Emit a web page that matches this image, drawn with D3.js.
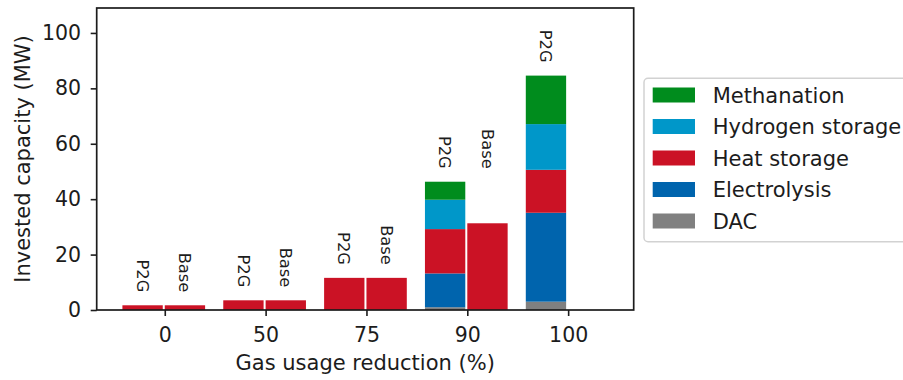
<!DOCTYPE html>
<html>
<head>
<meta charset="utf-8">
<script src="https://cdn.jsdelivr.net/npm/d3@7"></script>
<style>
  html, body { margin: 0; padding: 0; background: #fff; }
  svg { display: block; font-family: "DejaVu Sans", sans-serif; }
</style>
</head>
<body>
<svg id="chart" width="903" height="380"></svg>
<script>
// Gas usage reduction scenarios (x categories)
const categories = ["0", "50", "75", "90", "100"];

// P2G scenario, invested capacity per technology (MW)
const p2gDAC          = [0, 0, 0, 1.0, 3.0];
const p2gElectrolysis = [0, 0, 0, 12.2, 32.1];
const p2gHeatStorage  = [1.7, 3.5, 11.6, 16.0, 15.5];
const p2gHydrogen     = [0, 0, 0, 10.6, 16.5];
const p2gMethanation  = [0, 0, 0, 6.5, 17.5];

// Base scenario (heat storage only; no solution at 100 %)
const baseHeatStorage = [1.7, 3.5, 11.6, 31.3, null];

// Technologies, stacked bottom to top
const techNames  = ["DAC", "Electrolysis", "Heat storage", "Hydrogen storage", "Methanation"];
const techColors = ["#808080", "#0064ad", "#cb1225", "#0097c9", "#008c1d"];

const yTicks = [0, 20, 40, 60, 80, 100];

const svg = d3.select("#chart");
const ink = "#1c1c1c";

const plot = { left: 96.7, right: 633.7, top: 8, bottom: 310 };

const x = d3.scaleLinear().domain([-0.675, 4.65]).range([plot.left, plot.right]);
const y = d3.scaleLinear().domain([0, 109]).range([plot.bottom, plot.top]);

const p2gSeries = [p2gDAC, p2gElectrolysis, p2gHeatStorage, p2gHydrogen, p2gMethanation];

// Build stacked segments for the P2G bars
const segments = [];
categories.forEach((c, i) => {
  let acc = 0;
  p2gSeries.forEach((s, k) => {
    const v = s[i];
    if (v > 0) segments.push({ i, y0: acc, y1: acc + v, color: techColors[k] });
    acc += v;
  });
});

const bars = svg.append("g");
bars.selectAll("rect.p2g").data(segments).join("rect")
  .attr("class", "p2g")
  .attr("x", d => x(d.i - 0.42))
  .attr("width", d => x(d.i - 0.02) - x(d.i - 0.42))
  .attr("y", d => y(d.y1))
  .attr("height", d => y(d.y0) - y(d.y1))
  .attr("fill", d => d.color);

const baseData = baseHeatStorage.map((v, i) => ({ i, v })).filter(d => d.v != null);
bars.selectAll("rect.base").data(baseData).join("rect")
  .attr("class", "base")
  .attr("x", d => x(d.i))
  .attr("width", d => x(d.i + 0.4) - x(d.i))
  .attr("y", d => y(d.v))
  .attr("height", d => y(0) - y(d.v))
  .attr("fill", techColors[2]);

// Scenario labels above each group
const labelSize = 16.3;
const labels = [];
categories.forEach((c, i) => {
  const p2gTotal = d3.sum(p2gSeries, s => s[i]);
  const groupMax = Math.max(p2gTotal, baseHeatStorage[i] || 0);
  const yEnd = y(groupMax) - 13;
  labels.push({ text: "P2G", cx: x(i - 0.22), yEnd });
  if (baseHeatStorage[i] != null) labels.push({ text: "Base", cx: x(i + 0.2), yEnd });
});
svg.append("g").selectAll("text").data(labels).join("text")
  .attr("transform", d => `translate(${d.cx - 0.36 * labelSize},${d.yEnd}) rotate(90)`)
  .attr("text-anchor", "end")
  .attr("font-size", labelSize)
  .attr("fill", ink)
  .text(d => d.text);

// Axes
const tickSize = 20.5;
const xAxis = d3.axisBottom(x)
  .tickValues(categories.map((c, i) => i))
  .tickFormat(i => categories[i])
  .tickSize(6).tickPadding(11);
const gx = svg.append("g").attr("transform", `translate(0,${plot.bottom})`).call(xAxis);
gx.select(".domain").remove();

const yAxis = d3.axisLeft(y).tickValues(yTicks).tickSize(6).tickPadding(9.6);
const gy = svg.append("g").attr("transform", `translate(${plot.left},0)`).call(yAxis);
gy.select(".domain").remove();

[gx, gy].forEach(g => {
  g.selectAll("line").attr("stroke", ink).attr("stroke-width", 1.6);
  g.selectAll("text").attr("font-size", tickSize).attr("fill", ink)
    .attr("font-family", "DejaVu Sans, sans-serif");
});

// Frame
svg.append("rect")
  .attr("x", plot.left).attr("y", plot.top)
  .attr("width", plot.right - plot.left).attr("height", plot.bottom - plot.top)
  .attr("fill", "none").attr("stroke", ink).attr("stroke-width", 1.7);

// Axis titles
svg.append("text")
  .attr("x", (plot.left + plot.right) / 2).attr("y", 370)
  .attr("text-anchor", "middle").attr("font-size", 21).attr("fill", ink)
  .text("Gas usage reduction (%)");
svg.append("text")
  .attr("transform", `translate(30,${(plot.top + plot.bottom) / 2}) rotate(-90)`)
  .attr("text-anchor", "middle").attr("font-size", 21).attr("fill", ink)
  .text("Invested capacity (MW)");

// Legend (top entry = top of stack)
const legend = svg.append("g");
legend.append("rect")
  .attr("x", 644).attr("y", 78.3).attr("width", 280).attr("height", 163.4)
  .attr("rx", 4).attr("fill", "#fff").attr("stroke", "#d2d2d2").attr("stroke-width", 1.5);
const legendItems = techNames.map((n, k) => ({ name: n, color: techColors[k] })).reverse();
const rowY = d3.scaleLinear().domain([0, 4]).range([95, 221]);
const rows = legend.selectAll("g.row").data(legendItems).join("g")
  .attr("class", "row")
  .attr("transform", (d, k) => `translate(0,${rowY(k)})`);
rows.append("rect")
  .attr("x", 652.7).attr("y", -7.5).attr("width", 42.3).attr("height", 15)
  .attr("fill", d => d.color);
rows.append("text")
  .attr("x", 712.7).attr("y", 7.6)
  .attr("font-size", 21).attr("fill", ink)
  .text(d => d.name);
</script>
</body>
</html>
